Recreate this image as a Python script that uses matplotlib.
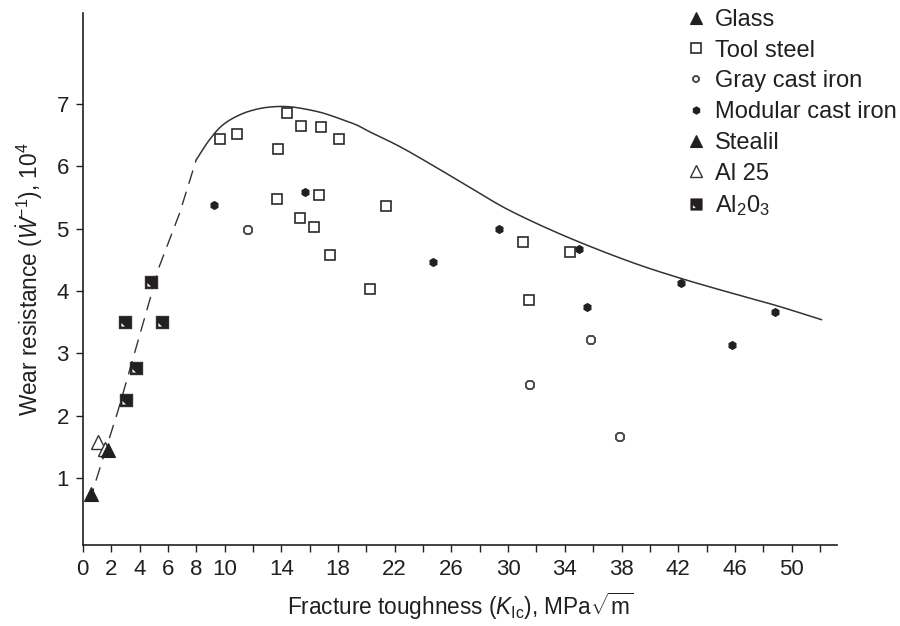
import numpy as np
import matplotlib
matplotlib.use("Agg")
import matplotlib.pyplot as plt
from matplotlib.path import Path

plt.rcParams["font.family"] = ["Liberation Sans", "DejaVu Sans"]
plt.rcParams["mathtext.fontset"] = "custom"
plt.rcParams["mathtext.rm"] = "Liberation Sans"
plt.rcParams["mathtext.it"] = "Liberation Sans:italic"
plt.rcParams["mathtext.bf"] = "Liberation Sans:bold"

INK = "#231f20"

# ---- data: fracture toughness (MPa*sqrt(m)) vs wear resistance (x 10^4) ----
glass_x = [0.55]
glass_y = [0.75]

tool_steel_x = [9.70, 10.87, 14.40, 15.41, 16.82, 18.07, 13.76, 13.72, 16.66,
                15.34, 16.30, 17.41, 21.36, 20.23, 31.05, 34.40, 31.48]
tool_steel_y = [6.43, 6.52, 6.85, 6.65, 6.63, 6.43, 6.28, 5.48, 5.53,
                5.17, 5.03, 4.57, 5.36, 4.03, 4.78, 4.63, 3.85]

gray_iron_x = [11.62, 35.88, 31.57, 37.88]
gray_iron_y = [4.97, 3.22, 2.49, 1.66]

modular_iron_x = [9.22, 15.69, 24.68, 29.34, 35.00, 35.57, 42.18, 45.78, 48.80]
modular_iron_y = [5.38, 5.58, 4.46, 4.99, 4.67, 3.75, 4.12, 3.13, 3.67]

stealil_x = [1.80]
stealil_y = [1.45]

al25_x = [1.05, 1.55]
al25_y = [1.58, 1.46]

al2o3_x = [4.83, 3.01, 5.60, 3.77, 3.06]
al2o3_y = [4.15, 3.50, 3.50, 2.76, 2.26]

# envelope: dashed rising branch and solid upper bound
dash_x = [0.50, 0.94, 2.47, 5.41, 6.82, 8.00]
dash_y = [0.62, 0.97, 2.07, 4.40, 5.24, 6.10]

curve_x = [8.00, 8.93, 9.88, 11.06, 12.24, 13.41, 14.59, 15.77, 16.94, 18.12,
           19.30, 20.23, 22.30, 24.47, 27.30, 30.10, 34.10, 38.58, 42.20,
           46.00, 49.00, 52.10]
curve_y = [6.10, 6.42, 6.66, 6.82, 6.91, 6.95, 6.95, 6.91, 6.85, 6.76,
           6.66, 6.55, 6.32, 6.04, 5.66, 5.29, 4.87, 4.47, 4.20,
           3.95, 3.76, 3.54]

x_tick_values = list(range(0, 53, 2))
x_tick_labels = ["0", "2", "4", "6", "8", "10", "14", "18", "22", "26",
                 "30", "34", "38", "42", "46", "50"]
y_tick_values = [1, 2, 3, 4, 5, 6, 7]


def smooth_path(xs, ys, steps=12):
    """Catmull-Rom spline through the given points, for a smooth stroke."""
    xs = np.asarray(xs, float)
    ys = np.asarray(ys, float)
    px = np.concatenate([[2 * xs[0] - xs[1]], xs, [2 * xs[-1] - xs[-2]]])
    py = np.concatenate([[2 * ys[0] - ys[1]], ys, [2 * ys[-1] - ys[-2]]])
    out_x, out_y = [], []
    t = np.linspace(0, 1, steps, endpoint=False)
    for i in range(1, len(px) - 2):
        for arr, res in ((px, out_x), (py, out_y)):
            p0, p1, p2, p3 = arr[i - 1], arr[i], arr[i + 1], arr[i + 2]
            res.extend(0.5 * ((2 * p1) + (-p0 + p2) * t
                              + (2 * p0 - 5 * p1 + 4 * p2 - p3) * t ** 2
                              + (-p0 + 3 * p1 - 3 * p2 + p3) * t ** 3))
    out_x.append(xs[-1])
    out_y.append(ys[-1])
    return out_x, out_y


# black square with a white notch in the lower-left corner
outer = [(-0.5, -0.5), (0.5, -0.5), (0.5, 0.5), (-0.5, 0.5), (-0.5, -0.5)]
inner = [(-0.36, -0.36), (-0.36, 0.04), (0.04, -0.36), (-0.36, -0.36)]
notch_sq = Path(outer + inner,
                [Path.MOVETO] + [Path.LINETO] * 3 + [Path.CLOSEPOLY]
                + [Path.MOVETO] + [Path.LINETO] * 2 + [Path.CLOSEPOLY])

fig = plt.figure(figsize=(9.0, 6.26), dpi=100)
ax = fig.add_axes([0.092, 0.1294, 0.838, 0.8496])

ax.plot(dash_x, dash_y, color="#333333", lw=1.0, dashes=(10, 6), zorder=1)
sx, sy = smooth_path(curve_x, curve_y)
ax.plot(sx, sy, color="#333333", lw=1.1, zorder=1)

h_glass, = ax.plot(glass_x, glass_y, ls="none", marker="^", ms=10,
                   mfc=INK, mec=INK, mew=0.8, label="Glass")
h_tool, = ax.plot(tool_steel_x, tool_steel_y, ls="none", marker="s", ms=7.5,
                  mfc="white", mec="#2a2a2a", mew=1.2, label="Tool steel")
h_gray, = ax.plot(gray_iron_x, gray_iron_y, ls="none", marker="8", ms=6,
                  mfc="white", mec="#4a4a4a", mew=1.4, label="Gray cast iron")
h_mod, = ax.plot(modular_iron_x, modular_iron_y, ls="none", marker="h", ms=5.5,
                 mfc=INK, mec=INK, label="Modular cast iron")
h_al25, = ax.plot(al25_x, al25_y, ls="none", marker="^", ms=10,
                  mfc="white", mec="#333333", mew=1.0, label="Al 25")
h_steal, = ax.plot(stealil_x, stealil_y, ls="none", marker="^", ms=10,
                   mfc=INK, mec=INK, mew=0.8, label="Stealil")
h_al2o3, = ax.plot(al2o3_x, al2o3_y, ls="none", marker=notch_sq, ms=9,
                   mfc=INK, mec=INK, mew=0.6, label="Al$_2$0$_3$")

ax.set_xlim(0, 53.2)
ax.set_ylim(-0.07, 8.45)

ax.set_xticks(x_tick_values)
labels_shown = [str(v) if str(v) in x_tick_labels else "" for v in x_tick_values]
ax.set_xticklabels(labels_shown)
ax.set_yticks(y_tick_values)
ax.set_yticklabels([str(v) for v in y_tick_values])

for side in ("top", "right"):
    ax.spines[side].set_visible(False)
for side in ("left", "bottom"):
    ax.spines[side].set_linewidth(1.2)
    ax.spines[side].set_color(INK)
ax.tick_params(axis="both", direction="out", length=5, width=1.0,
               colors=INK, labelsize=16, pad=5)

ax.set_xlabel(r"Fracture toughness ($K_{\mathrm{Ic}}$), MPa$\sqrt{\mathrm{m}}$",
              fontsize=16.3, color=INK, labelpad=8)
ax.set_ylabel(r"Wear resistance ($\dot{W}^{-1}$), $10^4$",
              fontsize=16.3, color=INK, labelpad=8)

handles = [h_glass, h_tool, h_gray, h_mod, h_steal, h_al25, h_al2o3]
leg = fig.legend(handles=handles, loc="upper left",
                 bbox_to_anchor=(685 / 900, 1 - 9 / 626),
                 frameon=False, fontsize=17, handlelength=0.95,
                 handletextpad=0.33, labelspacing=0.37, borderpad=0.0,
                 borderaxespad=0.0, markerscale=0.9)
for t in leg.get_texts():
    t.set_color(INK)

fig.savefig("out.png", dpi=100)
